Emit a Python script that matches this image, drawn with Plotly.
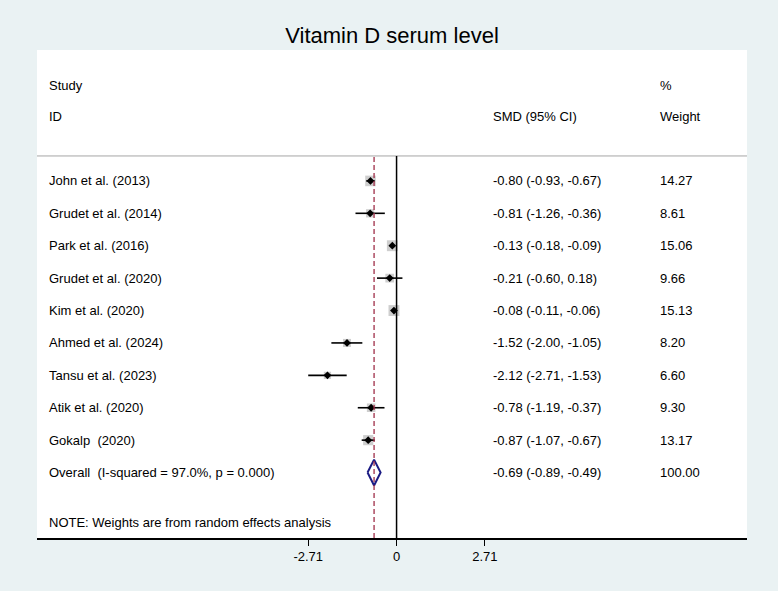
import numpy as np
import plotly.graph_objects as go

# study data (SMD, 95% CI, % weight)
studies = ["John et al. (2013)", "Grudet et al. (2014)", "Park et al. (2016)",
           "Grudet et al. (2020)", "Kim et al. (2020)", "Ahmed et al. (2024)",
           "Tansu et al. (2023)", "Atik et al. (2020)", "Gokalp  (2020)"]
smd = [-0.80, -0.81, -0.13, -0.21, -0.08, -1.52, -2.12, -0.78, -0.87]
ci_lo = [-0.93, -1.26, -0.18, -0.60, -0.11, -2.00, -2.71, -1.19, -1.07]
ci_hi = [-0.67, -0.36, -0.09, 0.18, -0.06, -1.05, -1.53, -0.37, -0.67]
weight = [14.27, 8.61, 15.06, 9.66, 15.13, 8.20, 6.60, 9.30, 13.17]

overall_label = "Overall  (I-squared = 97.0%, p = 0.000)"
overall_smd = -0.69
overall_lo = -0.89
overall_hi = -0.49
overall_weight = 100.00

tick_vals = [-2.71, 0, 2.71]
tick_text = ["-2.71", "0", "2.71"]

FONT = "Liberation Sans, Arial, sans-serif"
BG = "#eaf2f3"

smd = np.array(smd)
ci_lo = np.array(ci_lo)
ci_hi = np.array(ci_hi)
weight = np.array(weight)
rows = -np.arange(len(studies))
y_overall = -len(studies)

fig = go.Figure()

# weight boxes (side ~ sqrt(weight))
fig.add_trace(go.Scatter(
    x=smd, y=rows, mode="markers",
    marker=dict(symbol="square", size=2.8 * np.sqrt(weight), color="#b9b9b9",
                line=dict(width=0)),
    hoverinfo="skip", showlegend=False))

# CI lines + point estimates
fig.add_trace(go.Scatter(
    x=smd, y=rows, mode="markers",
    marker=dict(symbol="diamond", size=6, color="black"),
    error_x=dict(type="data", symmetric=False, array=ci_hi - smd,
                 arrayminus=smd - ci_lo, width=0, thickness=1.6, color="black"),
    showlegend=False))

# overall diamond
h = 0.4
fig.add_trace(go.Scatter(
    x=[overall_lo, overall_smd, overall_hi, overall_smd, overall_lo],
    y=[y_overall, y_overall + h, y_overall, y_overall - h, y_overall],
    mode="lines", line=dict(color="#1c1c84", width=2),
    showlegend=False))

sep_y = 0.77
fig.add_shape(type="line", xref="paper", x0=0, x1=1, y0=sep_y, y1=sep_y,
              line=dict(color="#a6a6a6", width=1))
fig.add_shape(type="line", x0=0, x1=0, y0=-11.02, y1=sep_y,
              line=dict(color="black", width=1.5))
fig.add_shape(type="line", x0=overall_smd, x1=overall_smd, y0=-11.02, y1=sep_y,
              line=dict(color="#a02f48", width=1.3, dash="5px,3px"))

col_name, col_ci, col_w = 0.014, 0.639, 0.874
ann = []

def txt(x, y, s):
    ann.append(dict(x=x, y=y, xref="paper", yref="y", text=s, showarrow=False,
                    xanchor="left", yanchor="middle",
                    font=dict(family=FONT, size=13, color="black")))

txt(col_name, 2.96, "Study")
txt(col_name, 1.98, "ID")
txt(col_ci, 1.98, "SMD (95% CI)")
txt(col_w, 2.96, "%")
txt(col_w, 1.98, "Weight")

for i, name in enumerate(studies):
    txt(col_name, rows[i], name)
    txt(col_ci, rows[i], "%.2f (%.2f, %.2f)" % (smd[i], ci_lo[i], ci_hi[i]))
    txt(col_w, rows[i], "%.2f" % weight[i])

txt(col_name, y_overall, overall_label)
txt(col_ci, y_overall, "%.2f (%.2f, %.2f)" % (overall_smd, overall_lo, overall_hi))
txt(col_w, y_overall, "%.2f" % overall_weight)
txt(col_name, -10.55, "NOTE: Weights are from random effects analysis")

fig.update_layout(
    width=778, height=591,
    margin=dict(l=37, r=31, t=50, b=53),
    paper_bgcolor=BG, plot_bgcolor="white",
    title=dict(text="Vitamin D serum level", x=0.5, xref="paper",
               y=1 - 35 / 591, yanchor="middle",
               font=dict(family=FONT, size=22, color="black")),
    annotations=ann,
    font=dict(family=FONT, size=13, color="black"),
)
fig.update_xaxes(range=[-11.03, 10.75], tickvals=tick_vals, ticktext=tick_text,
                 showgrid=False, zeroline=False, showline=True, linecolor="black",
                 linewidth=1.5, ticks="outside", ticklen=6, tickwidth=1.2,
                 tickcolor="black", tickfont=dict(family=FONT, size=13))
fig.update_yaxes(range=[-11.02, 4.04], visible=False)

fig.write_html("out.html", config={"displayModeBar": False},
               post_script="document.body.style.margin='0';"
                           "document.body.style.background='%s';" % BG)
